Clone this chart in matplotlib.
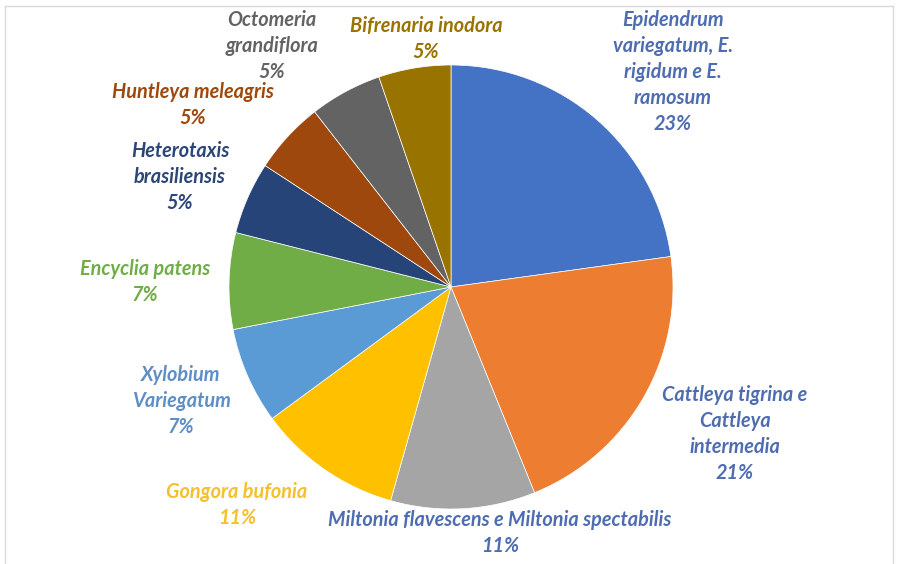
import matplotlib.pyplot as plt
from matplotlib.lines import Line2D

# Number of records per species (57 in total), clockwise from 12 o'clock
species = ["Epidendrum\nvariegatum, E.\nrigidum e E.\nramosum",
           "Cattleya tigrina e\nCattleya\nintermedia",
           "Miltonia flavescens e Miltonia spectabilis",
           "Gongora bufonia",
           "Xylobium\nVariegatum",
           "Encyclia patens",
           "Heterotaxis\nbrasiliensis",
           "Huntleya meleagris",
           "Octomeria\ngrandiflora",
           "Bifrenaria inodora"]
counts = [13, 12, 6, 6, 4, 4, 3, 3, 3, 3]

slice_colors = ["#4472C4", "#ED7D31", "#A5A5A5", "#FFC000", "#5B9BD5",
                "#70AD47", "#264478", "#9E480E", "#636363", "#997300"]
label_colors = ["#4E6DB0", "#4E6DB0", "#4E6DB0", "#F5C02A", "#5E8EC6",
                "#70AD47", "#2B4677", "#9E480E", "#636363", "#997300"]
# label centres in pixels of the 897x564 image
label_px = [(673, 72), (735, 434), (500, 533), (237, 505), (181, 401),
            (145, 282), (180, 177), (193, 105), (272, 46), (426, 39)]

W, H = 897, 564
cx, cy, r = 451, 287, 222
total = sum(counts)

fig = plt.figure(figsize=(W / 100, H / 100), dpi=100)
ax = fig.add_axes([(cx - r) / W, (H - cy - r) / H, 2 * r / W, 2 * r / H])
ax.pie(counts, colors=slice_colors, startangle=90, counterclock=False,
       wedgeprops=dict(edgecolor="white", linewidth=0.5))
ax.set_xlim(-1, 1)
ax.set_ylim(-1, 1)
ax.set_aspect("equal")
ax.axis("off")

for name, c, col, (px, py) in zip(species, counts, label_colors, label_px):
    pct = int(100 * c / total + 0.5)
    ax.text((px - cx) / r, (cy - py) / r, f"{name}\n{pct}%", color=col,
            ha="center", va="center", fontsize=14.3, family="Lato",
            fontweight="bold", fontstyle="italic", linespacing=1.38)

# thin frame (left, top, right)
bc = "#D9D9D9"
fig.add_artist(Line2D([5 / W, 5 / W], [0, 1 - 6 / H], color=bc, lw=1))
fig.add_artist(Line2D([5 / W, 893 / W], [1 - 6 / H, 1 - 6 / H], color=bc, lw=1))
fig.add_artist(Line2D([893 / W, 893 / W], [0, 1 - 6 / H], color=bc, lw=1))

fig.savefig("out.png", dpi=100)
